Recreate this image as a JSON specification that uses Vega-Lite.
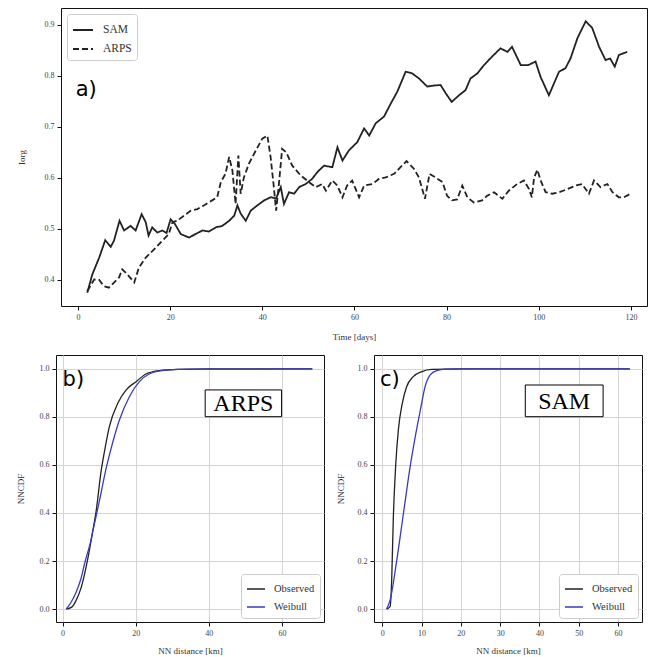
{
  "$schema": "https://vega.github.io/schema/vega-lite/v6.json",
  "padding": {"left": 15, "top": 7, "right": 0, "bottom": 0},
  "background": "white",
  "config": {
    "font": "Liberation Serif",
    "view": {"stroke": "#111", "strokeWidth": 1},
    "axis": {"domain": false, "ticks": true, "tickColor": "#111", "tickSize": 4, "labelFontSize": 8, "labelColor": "#444", "labelPadding": 3, "titleFontSize": 9, "titleColor": "#333", "titleFontWeight": "normal", "labelFont": "Liberation Serif", "titleFont": "Liberation Serif", "grid": false, "gridColor": "#d4d4d4"},
    "axisY": {"minExtent": 20, "maxExtent": 20},
    "legend": {"labelFont": "Liberation Serif", "labelColor": "#333", "strokeColor": "#cccccc", "fillColor": "white", "padding": 5, "cornerRadius": 3, "symbolType": "stroke", "title": null}
  },
  "vconcat": [
    {
      "hconcat": [
        {
          "width": 1, "height": 298,
          "view": {"stroke": null},
          "data": {"values": [{"k": 1}]},
          "mark": {"type": "point", "opacity": 0},
          "encoding": {}
        },
        {
          "width": 586, "height": 298,
          "encoding": {
            "x": {"field": "t", "type": "quantitative", "scale": {"domain": [-3.7, 123.5], "nice": false, "zero": false}, "axis": {"values": [0, 20, 40, 60, 80, 100, 120], "title": "Time [days]", "titlePadding": 11}},
            "y": {"field": "v", "type": "quantitative", "scale": {"domain": [0.349, 0.933], "nice": false, "zero": false}, "axis": {"values": [0.4, 0.5, 0.6, 0.7, 0.8, 0.9], "format": ".1f", "title": "Iorg", "titlePadding": 15}}
          },
          "layer": [
            {
              "data": {"values": [
                {"m":"SAM","t":2.0,"v":0.375},{"m":"SAM","t":3.1,"v":0.411},{"m":"SAM","t":4.6,"v":0.444},{"m":"SAM","t":5.9,"v":0.478},{"m":"SAM","t":7.1,"v":0.465},{"m":"SAM","t":7.8,"v":0.477},{"m":"SAM","t":9.0,"v":0.516},{"m":"SAM","t":10.0,"v":0.497},{"m":"SAM","t":11.4,"v":0.506},{"m":"SAM","t":12.5,"v":0.497},{"m":"SAM","t":13.8,"v":0.529},{"m":"SAM","t":14.7,"v":0.513},{"m":"SAM","t":15.3,"v":0.487},{"m":"SAM","t":16.1,"v":0.503},{"m":"SAM","t":17.2,"v":0.493},{"m":"SAM","t":18.3,"v":0.497},{"m":"SAM","t":19.2,"v":0.492},{"m":"SAM","t":20.1,"v":0.519},{"m":"SAM","t":21.0,"v":0.510},{"m":"SAM","t":22.3,"v":0.490},{"m":"SAM","t":24.1,"v":0.483},{"m":"SAM","t":25.5,"v":0.490},{"m":"SAM","t":27.0,"v":0.497},{"m":"SAM","t":28.4,"v":0.495},{"m":"SAM","t":29.9,"v":0.503},{"m":"SAM","t":31.3,"v":0.506},{"m":"SAM","t":32.8,"v":0.516},{"m":"SAM","t":33.9,"v":0.526},{"m":"SAM","t":34.6,"v":0.546},{"m":"SAM","t":35.3,"v":0.530},{"m":"SAM","t":36.4,"v":0.516},{"m":"SAM","t":37.5,"v":0.536},{"m":"SAM","t":38.9,"v":0.546},{"m":"SAM","t":40.4,"v":0.556},{"m":"SAM","t":41.8,"v":0.562},{"m":"SAM","t":43.0,"v":0.560},{"m":"SAM","t":44.0,"v":0.582},{"m":"SAM","t":44.7,"v":0.549},{"m":"SAM","t":45.8,"v":0.572},{"m":"SAM","t":46.9,"v":0.569},{"m":"SAM","t":48.0,"v":0.582},{"m":"SAM","t":49.4,"v":0.588},{"m":"SAM","t":50.8,"v":0.598},{"m":"SAM","t":52.0,"v":0.612},{"m":"SAM","t":53.4,"v":0.624},{"m":"SAM","t":55.2,"v":0.621},{"m":"SAM","t":56.3,"v":0.660},{"m":"SAM","t":57.4,"v":0.634},{"m":"SAM","t":58.8,"v":0.654},{"m":"SAM","t":60.6,"v":0.670},{"m":"SAM","t":62.1,"v":0.697},{"m":"SAM","t":63.2,"v":0.683},{"m":"SAM","t":64.6,"v":0.707},{"m":"SAM","t":66.4,"v":0.720},{"m":"SAM","t":67.9,"v":0.746},{"m":"SAM","t":69.3,"v":0.769},{"m":"SAM","t":71.1,"v":0.808},{"m":"SAM","t":72.5,"v":0.805},{"m":"SAM","t":74.0,"v":0.795},{"m":"SAM","t":75.8,"v":0.779},{"m":"SAM","t":77.2,"v":0.781},{"m":"SAM","t":78.7,"v":0.782},{"m":"SAM","t":79.8,"v":0.766},{"m":"SAM","t":81.1,"v":0.749},{"m":"SAM","t":82.7,"v":0.762},{"m":"SAM","t":84.1,"v":0.772},{"m":"SAM","t":85.2,"v":0.795},{"m":"SAM","t":86.7,"v":0.805},{"m":"SAM","t":88.1,"v":0.821},{"m":"SAM","t":89.9,"v":0.838},{"m":"SAM","t":91.7,"v":0.854},{"m":"SAM","t":93.2,"v":0.847},{"m":"SAM","t":94.2,"v":0.857},{"m":"SAM","t":96.1,"v":0.821},{"m":"SAM","t":97.7,"v":0.821},{"m":"SAM","t":99.3,"v":0.828},{"m":"SAM","t":100.4,"v":0.798},{"m":"SAM","t":102.2,"v":0.762},{"m":"SAM","t":103.3,"v":0.785},{"m":"SAM","t":104.4,"v":0.808},{"m":"SAM","t":105.8,"v":0.815},{"m":"SAM","t":106.9,"v":0.834},{"m":"SAM","t":108.4,"v":0.874},{"m":"SAM","t":110.2,"v":0.907},{"m":"SAM","t":111.6,"v":0.894},{"m":"SAM","t":113.1,"v":0.857},{"m":"SAM","t":114.5,"v":0.831},{"m":"SAM","t":115.5,"v":0.834},{"m":"SAM","t":116.5,"v":0.818},{"m":"SAM","t":117.4,"v":0.841},{"m":"SAM","t":119.2,"v":0.847},
                {"m":"ARPS","t":2.0,"v":0.378},{"m":"ARPS","t":3.5,"v":0.401},{"m":"ARPS","t":4.6,"v":0.400},{"m":"ARPS","t":5.6,"v":0.388},{"m":"ARPS","t":6.7,"v":0.385},{"m":"ARPS","t":7.8,"v":0.395},{"m":"ARPS","t":8.9,"v":0.405},{"m":"ARPS","t":9.6,"v":0.421},{"m":"ARPS","t":10.7,"v":0.411},{"m":"ARPS","t":12.2,"v":0.395},{"m":"ARPS","t":13.2,"v":0.424},{"m":"ARPS","t":14.7,"v":0.444},{"m":"ARPS","t":16.5,"v":0.460},{"m":"ARPS","t":18.3,"v":0.477},{"m":"ARPS","t":19.7,"v":0.490},{"m":"ARPS","t":20.5,"v":0.513},{"m":"ARPS","t":21.5,"v":0.516},{"m":"ARPS","t":23.0,"v":0.526},{"m":"ARPS","t":24.5,"v":0.536},{"m":"ARPS","t":25.9,"v":0.539},{"m":"ARPS","t":27.3,"v":0.546},{"m":"ARPS","t":29.1,"v":0.556},{"m":"ARPS","t":30.2,"v":0.562},{"m":"ARPS","t":31.0,"v":0.592},{"m":"ARPS","t":32.0,"v":0.608},{"m":"ARPS","t":32.8,"v":0.641},{"m":"ARPS","t":33.5,"v":0.615},{"m":"ARPS","t":34.2,"v":0.549},{"m":"ARPS","t":34.8,"v":0.644},{"m":"ARPS","t":35.3,"v":0.569},{"m":"ARPS","t":36.0,"v":0.601},{"m":"ARPS","t":37.1,"v":0.628},{"m":"ARPS","t":38.6,"v":0.654},{"m":"ARPS","t":40.0,"v":0.677},{"m":"ARPS","t":41.1,"v":0.683},{"m":"ARPS","t":41.8,"v":0.641},{"m":"ARPS","t":42.5,"v":0.582},{"m":"ARPS","t":43.0,"v":0.536},{"m":"ARPS","t":43.6,"v":0.588},{"m":"ARPS","t":44.3,"v":0.657},{"m":"ARPS","t":45.2,"v":0.650},{"m":"ARPS","t":46.5,"v":0.624},{"m":"ARPS","t":48.3,"v":0.605},{"m":"ARPS","t":50.1,"v":0.592},{"m":"ARPS","t":51.6,"v":0.582},{"m":"ARPS","t":53.0,"v":0.588},{"m":"ARPS","t":53.8,"v":0.575},{"m":"ARPS","t":55.2,"v":0.595},{"m":"ARPS","t":56.3,"v":0.585},{"m":"ARPS","t":57.4,"v":0.562},{"m":"ARPS","t":58.4,"v":0.585},{"m":"ARPS","t":59.5,"v":0.595},{"m":"ARPS","t":61.0,"v":0.562},{"m":"ARPS","t":62.1,"v":0.585},{"m":"ARPS","t":63.9,"v":0.588},{"m":"ARPS","t":65.3,"v":0.598},{"m":"ARPS","t":66.8,"v":0.601},{"m":"ARPS","t":68.6,"v":0.608},{"m":"ARPS","t":70.0,"v":0.621},{"m":"ARPS","t":71.3,"v":0.633},{"m":"ARPS","t":72.9,"v":0.618},{"m":"ARPS","t":74.0,"v":0.601},{"m":"ARPS","t":75.3,"v":0.559},{"m":"ARPS","t":76.3,"v":0.608},{"m":"ARPS","t":77.6,"v":0.601},{"m":"ARPS","t":79.1,"v":0.592},{"m":"ARPS","t":80.1,"v":0.565},{"m":"ARPS","t":81.2,"v":0.556},{"m":"ARPS","t":82.3,"v":0.558},{"m":"ARPS","t":83.4,"v":0.585},{"m":"ARPS","t":84.5,"v":0.562},{"m":"ARPS","t":85.9,"v":0.552},{"m":"ARPS","t":87.7,"v":0.556},{"m":"ARPS","t":88.8,"v":0.565},{"m":"ARPS","t":90.3,"v":0.572},{"m":"ARPS","t":92.1,"v":0.559},{"m":"ARPS","t":93.5,"v":0.575},{"m":"ARPS","t":95.3,"v":0.588},{"m":"ARPS","t":96.8,"v":0.595},{"m":"ARPS","t":97.9,"v":0.578},{"m":"ARPS","t":98.5,"v":0.562},{"m":"ARPS","t":99.0,"v":0.601},{"m":"ARPS","t":99.7,"v":0.616},{"m":"ARPS","t":100.4,"v":0.595},{"m":"ARPS","t":101.5,"v":0.572},{"m":"ARPS","t":102.9,"v":0.569},{"m":"ARPS","t":104.5,"v":0.572},{"m":"ARPS","t":106.2,"v":0.578},{"m":"ARPS","t":108.0,"v":0.585},{"m":"ARPS","t":109.4,"v":0.588},{"m":"ARPS","t":110.9,"v":0.569},{"m":"ARPS","t":112.0,"v":0.595},{"m":"ARPS","t":113.4,"v":0.582},{"m":"ARPS","t":114.9,"v":0.588},{"m":"ARPS","t":116.0,"v":0.572},{"m":"ARPS","t":117.4,"v":0.562},{"m":"ARPS","t":118.5,"v":0.562},{"m":"ARPS","t":119.9,"v":0.569}
              ]},
              "mark": {"type": "line", "stroke": "#222", "strokeWidth": 1.8},
              "encoding": {
                "strokeDash": {"field": "m", "type": "nominal", "scale": {"domain": ["SAM", "ARPS"], "range": [[1, 0], [6, 3]]}, "legend": {"orient": "top-left", "offset": 6, "labelFontSize": 11.5, "symbolSize": 400, "symbolStrokeWidth": 2, "symbolStrokeColor": "#222", "labelOffset": 9}}
              }
            },
            {
              "data": {"values": [{"t": -0.5, "v": 0.761, "s": "a)"}]},
              "mark": {"type": "text", "align": "left", "baseline": "alphabetic", "font": "DejaVu Sans", "fontSize": 21, "color": "#000"},
              "encoding": {"text": {"field": "s"}}
            }
          ]
        }
      ],
      "spacing": 4,
      "bounds": "flush",
      "resolve": {"scale": {"strokeDash": "independent"}, "legend": {"strokeDash": "independent"}}
    },
    {
      "hconcat": [
        {
          "width": 268, "height": 267,
          "encoding": {
            "x": {"field": "d", "type": "quantitative", "scale": {"domain": [-1.8, 71.5], "nice": false, "zero": false}, "axis": {"values": [0, 20, 40, 60], "title": "NN distance [km]", "titlePadding": 9, "grid": true}},
            "y": {"field": "p", "type": "quantitative", "scale": {"domain": [-0.054, 1.058], "nice": false, "zero": false}, "axis": {"values": [0, 0.2, 0.4, 0.6, 0.8, 1.0], "format": ".1f", "title": "NNCDF", "titlePadding": 11, "grid": true}}
          },
          "layer": [
            {
              "data": {"values": [
                {"c":"Observed","d":1.0,"p":0.0},{"c":"Observed","d":2.5,"p":0.008},{"c":"Observed","d":3.5,"p":0.03},{"c":"Observed","d":5.1,"p":0.09},{"c":"Observed","d":6.9,"p":0.21},{"c":"Observed","d":8.2,"p":0.32},{"c":"Observed","d":9.2,"p":0.41},{"c":"Observed","d":10.5,"p":0.57},{"c":"Observed","d":11.5,"p":0.66},{"c":"Observed","d":12.8,"p":0.76},{"c":"Observed","d":15.1,"p":0.857},{"c":"Observed","d":17.4,"p":0.913},{"c":"Observed","d":20.1,"p":0.947},{"c":"Observed","d":22.8,"p":0.979},{"c":"Observed","d":26.5,"p":0.993},{"c":"Observed","d":32,"p":0.998},{"c":"Observed","d":40,"p":1.0},{"c":"Observed","d":68.3,"p":1.0},
                {"c":"Weibull","d":1.0,"p":0.0},{"c":"Weibull","d":2.2,"p":0.025},{"c":"Weibull","d":3.7,"p":0.07},{"c":"Weibull","d":5.0,"p":0.125},{"c":"Weibull","d":6.2,"p":0.2},{"c":"Weibull","d":7.5,"p":0.27},{"c":"Weibull","d":8.5,"p":0.34},{"c":"Weibull","d":10.0,"p":0.445},{"c":"Weibull","d":11.9,"p":0.585},{"c":"Weibull","d":13.3,"p":0.67},{"c":"Weibull","d":15.5,"p":0.785},{"c":"Weibull","d":18.3,"p":0.885},{"c":"Weibull","d":21.0,"p":0.947},{"c":"Weibull","d":23.7,"p":0.979},{"c":"Weibull","d":27.8,"p":0.994},{"c":"Weibull","d":35,"p":0.999},{"c":"Weibull","d":68.3,"p":1.0}
              ]},
              "mark": {"type": "line", "strokeWidth": 1.3, "interpolate": "monotone"},
              "encoding": {
                "color": {"field": "c", "type": "nominal", "scale": {"domain": ["Observed", "Weibull"], "range": ["#222222", "#3a3ac0"]}, "legend": {"orient": "bottom-right", "offset": 4, "labelFontSize": 10.5, "symbolSize": 324, "symbolStrokeWidth": 1.5, "labelOffset": 8}}
              }
            },
            {
              "data": {"values": [{"d": 39.0, "p": 0.801, "d2": 59.9, "p2": 0.9125}]},
              "mark": {"type": "rect", "fill": "white", "stroke": "#000", "strokeWidth": 1},
              "encoding": {"x2": {"field": "d2"}, "y2": {"field": "p2"}}
            },
            {
              "data": {"values": [{"d": 49.45, "p": 0.857, "s": "ARPS"}]},
              "mark": {"type": "text", "align": "center", "baseline": "middle", "font": "Liberation Serif", "fontSize": 24, "color": "#000", "dy": 1},
              "encoding": {"text": {"field": "s"}}
            },
            {
              "data": {"values": [{"d": 0.0, "p": 0.929, "s": "b)"}]},
              "mark": {"type": "text", "align": "left", "baseline": "alphabetic", "font": "DejaVu Sans", "fontSize": 21, "color": "#000"},
              "encoding": {"text": {"field": "s"}}
            }
          ]
        },
        {
          "width": 268, "height": 267,
          "encoding": {
            "x": {"field": "d", "type": "quantitative", "scale": {"domain": [-2.1, 66.1], "nice": false, "zero": false}, "axis": {"values": [0, 10, 20, 30, 40, 50, 60], "title": "NN distance [km]", "titlePadding": 9, "grid": true}},
            "y": {"field": "p", "type": "quantitative", "scale": {"domain": [-0.054, 1.058], "nice": false, "zero": false}, "axis": {"values": [0, 0.2, 0.4, 0.6, 0.8, 1.0], "format": ".1f", "title": "NNCDF", "titlePadding": 9, "grid": true}}
          },
          "layer": [
            {
              "data": {"values": [
                {"c":"Observed","d":1.1,"p":0.0},{"c":"Observed","d":2.0,"p":0.01},{"c":"Observed","d":2.4,"p":0.12},{"c":"Observed","d":2.8,"p":0.37},{"c":"Observed","d":3.4,"p":0.593},{"c":"Observed","d":4.1,"p":0.746},{"c":"Observed","d":5.1,"p":0.857},{"c":"Observed","d":6.2,"p":0.926},{"c":"Observed","d":7.9,"p":0.968},{"c":"Observed","d":10.1,"p":0.989},{"c":"Observed","d":12.6,"p":0.998},{"c":"Observed","d":20,"p":1.0},{"c":"Observed","d":63,"p":1.0},
                {"c":"Weibull","d":1.1,"p":0.0},{"c":"Weibull","d":2.0,"p":0.037},{"c":"Weibull","d":3.7,"p":0.204},{"c":"Weibull","d":5.4,"p":0.399},{"c":"Weibull","d":7.1,"p":0.593},{"c":"Weibull","d":8.4,"p":0.718},{"c":"Weibull","d":9.7,"p":0.829},{"c":"Weibull","d":10.9,"p":0.926},{"c":"Weibull","d":12.2,"p":0.975},{"c":"Weibull","d":13.9,"p":0.993},{"c":"Weibull","d":16,"p":0.999},{"c":"Weibull","d":25,"p":1.0},{"c":"Weibull","d":63,"p":1.0}
              ]},
              "mark": {"type": "line", "strokeWidth": 1.3, "interpolate": "monotone"},
              "encoding": {
                "color": {"field": "c", "type": "nominal", "scale": {"domain": ["Observed", "Weibull"], "range": ["#222222", "#3a3ac0"]}, "legend": {"orient": "bottom-right", "offset": 4, "labelFontSize": 10.5, "symbolSize": 324, "symbolStrokeWidth": 1.5, "labelOffset": 8}}
              }
            },
            {
              "data": {"values": [{"d": 36.4, "p": 0.801, "d2": 56.2, "p2": 0.933}]},
              "mark": {"type": "rect", "fill": "white", "stroke": "#000", "strokeWidth": 1},
              "encoding": {"x2": {"field": "d2"}, "y2": {"field": "p2"}}
            },
            {
              "data": {"values": [{"d": 46.3, "p": 0.867, "s": "SAM"}]},
              "mark": {"type": "text", "align": "center", "baseline": "middle", "font": "Liberation Serif", "fontSize": 24, "color": "#000", "dy": 1},
              "encoding": {"text": {"field": "s"}}
            },
            {
              "data": {"values": [{"d": -0.6, "p": 0.93, "s": "c)"}]},
              "mark": {"type": "text", "align": "left", "baseline": "alphabetic", "font": "DejaVu Sans", "fontSize": 21, "color": "#000"},
              "encoding": {"text": {"field": "s"}}
            }
          ]
        }
      ],
      "spacing": 50,
      "bounds": "flush",
      "resolve": {"scale": {"color": "independent"}, "legend": {"color": "independent"}}
    }
  ],
  "spacing": 12,
  "resolve": {"scale": {"color": "independent", "strokeDash": "independent"}, "legend": {"color": "independent", "strokeDash": "independent"}}
}
